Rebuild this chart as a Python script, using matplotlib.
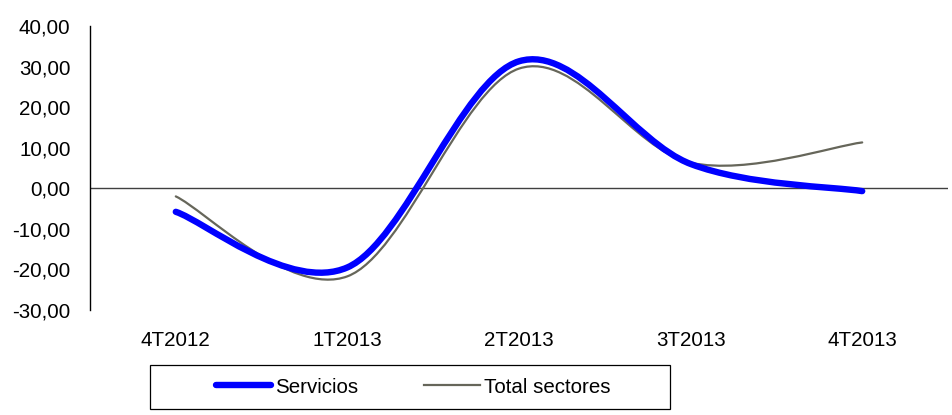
import matplotlib

matplotlib.use("Agg")
import matplotlib.pyplot as plt
from matplotlib.path import Path
from matplotlib.patches import PathPatch, Rectangle
from matplotlib.lines import Line2D
from matplotlib.ticker import FuncFormatter

plt.rcParams["font.family"] = ["Liberation Sans", "DejaVu Sans"]

quarters = ["4T2012", "1T2013", "2T2013", "3T2013", "4T2013"]
servicios = [-5.8, -19.5, 31.3, 6.0, -0.7]
total_sectores = [-2.0, -21.7, 29.5, 6.3, 11.3]

BLUE = "#0000ff"
GREY = "#66665a"
FS = 14.8


def smooth_path(xs, ys):
    # Excel-style smoothed line: cubic Bezier through each point (Catmull-Rom tangents)
    pts = list(zip(xs, ys))
    n = len(pts)
    verts = [pts[0]]
    codes = [Path.MOVETO]
    for i in range(n - 1):
        p0 = pts[i - 1] if i > 0 else pts[i]
        p1 = pts[i]
        p2 = pts[i + 1]
        p3 = pts[i + 2] if i + 2 < n else pts[i + 1]
        c1 = (p1[0] + (p2[0] - p0[0]) / 6, p1[1] + (p2[1] - p0[1]) / 6)
        c2 = (p2[0] - (p3[0] - p1[0]) / 6, p2[1] - (p3[1] - p1[1]) / 6)
        verts += [c1, c2, p2]
        codes += [Path.CURVE4] * 3
    return Path(verts, codes)


fig = plt.figure(figsize=(9.52, 4.15), dpi=100)
ax = fig.add_axes([90 / 952, 105 / 415, 858 / 952, 284 / 415])

xs = list(range(len(quarters)))
ax.axhline(0, color="#404040", lw=1.0, zorder=1)
ax.add_patch(PathPatch(smooth_path(xs, total_sectores), fill=False, edgecolor=GREY,
                       lw=1.6, capstyle="round", zorder=2))
ax.add_patch(PathPatch(smooth_path(xs, servicios), fill=False, edgecolor=BLUE,
                       lw=4.6, capstyle="round", zorder=3))

ax.set_xlim(-0.5, len(quarters) - 0.5)
ax.set_ylim(-30, 40)
ax.set_yticks(range(-30, 41, 10))
ax.yaxis.set_major_formatter(FuncFormatter(lambda v, p: f"{v:.2f}".replace(".", ",")))
ax.set_xticks(xs)
ax.set_xticklabels(quarters)
ax.tick_params(axis="y", length=0, pad=14, labelsize=FS)
ax.tick_params(axis="x", length=0, pad=15, labelsize=FS)
for s in ["top", "right", "bottom"]:
    ax.spines[s].set_visible(False)
ax.spines["left"].set_color("#000000")
ax.spines["left"].set_linewidth(1.0)

handles = [Line2D([], [], color=BLUE, lw=4.6, solid_capstyle="round"),
           Line2D([], [], color=GREY, lw=1.6)]
fig.legend(handles, ["Servicios", "Total sectores"], loc="center",
           bbox_to_anchor=(413 / 952, 1 - 387 / 415), ncol=2, frameon=False,
           fontsize=FS, handlelength=2.7, handletextpad=0.2, columnspacing=3.2)
fig.patches.append(Rectangle((150 / 952, 6 / 415), 520 / 952, 44 / 415,
                             transform=fig.transFigure, fill=False,
                             edgecolor="#000000", lw=0.9))

fig.savefig("out.png", dpi=100)
